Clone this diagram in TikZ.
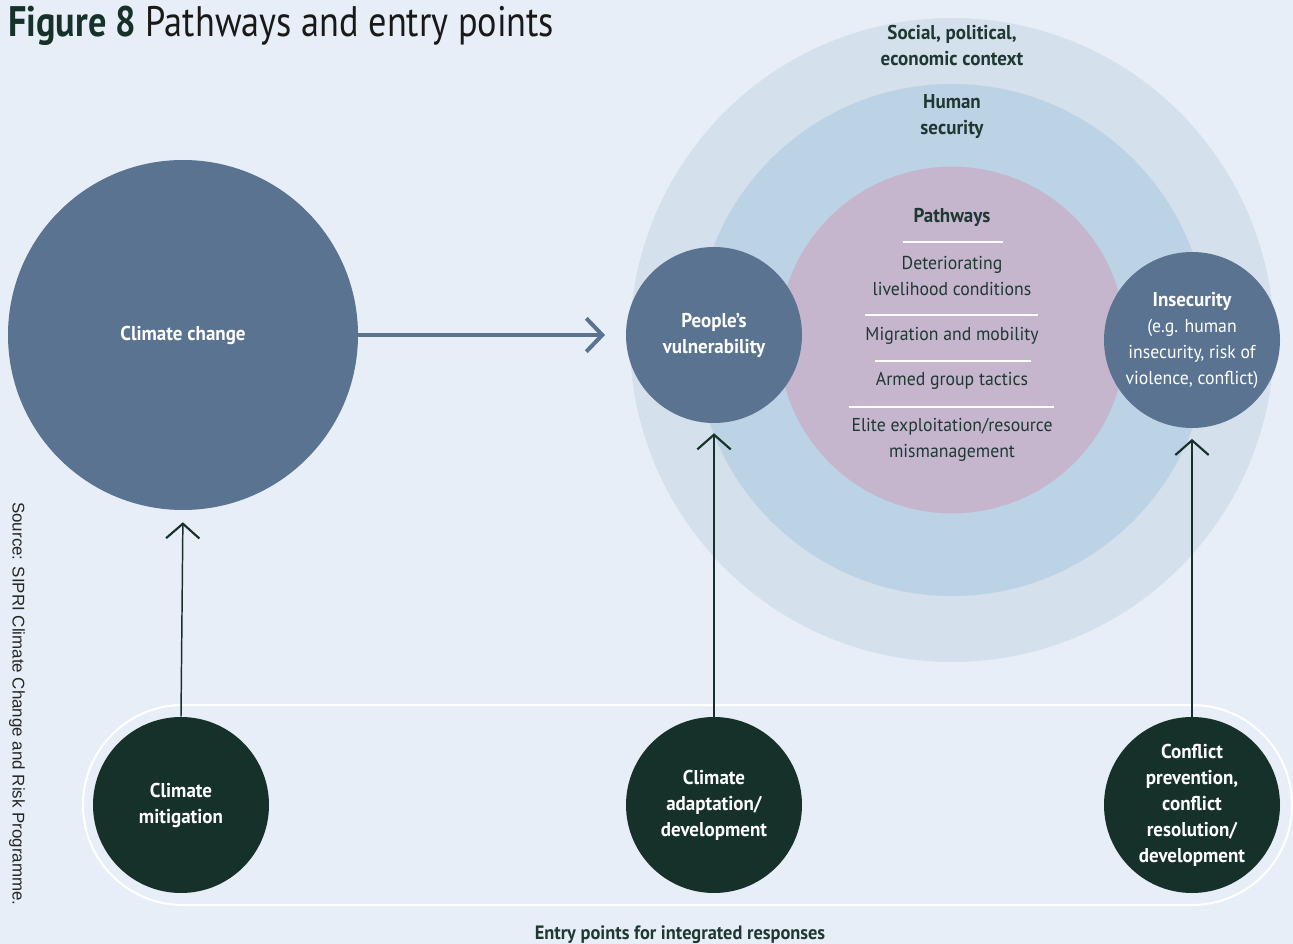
\documentclass[tikz,border=0pt]{standalone}
\usepackage{fontspec}
\setmainfont{PT Sans}[FakeStretch=0.95]
\newfontfamily\titlefont{PT Sans}[FakeStretch=0.85]
\newfontfamily\srcfont{Liberation Sans}
\usetikzlibrary{arrows.meta}
\definecolor{bg}{HTML}{E7EEF7}
\definecolor{outerc}{HTML}{D4E0EB}
\definecolor{humanc}{HTML}{BCD2E5}
\definecolor{pathc}{HTML}{C5B6CD}
\definecolor{slate}{HTML}{5A7390}
\definecolor{dgreen}{HTML}{16312A}
\definecolor{txtg}{HTML}{1F3832}
\tikzset{
  body/.style={font=\fontsize{14}{19.5}\selectfont, align=center, inner sep=0pt},
  bbody/.style={font=\bfseries\fontsize{15}{19.5}\selectfont, align=center, inner sep=0pt},
  slatecirc/.style={circle, fill=slate, text=white, inner sep=0pt},
  greencirc/.style={circle, fill=dgreen, text=white, inner sep=0pt, minimum size=132pt, bbody},
  sepline/.style={white, line width=1.2pt},
  varrow/.style={dgreen, line width=1.1pt, -{Straight Barb[length=11pt, width=25pt, line width=1.6pt]}},
  harrow/.style={slate, line width=3pt, -{Straight Barb[length=12pt, width=25pt, line width=3pt]}}
}
\begin{document}
\begin{tikzpicture}[x=0.75pt,y=-0.75pt]
\fill[bg] (0,0) rectangle (1293,944);
\useasboundingbox (0,0) rectangle (1293,944);

% title
\node[anchor=base west, inner sep=0pt, font=\titlefont\fontsize{32}{36}\selectfont] (title) at (8,37)
  {\textcolor{dgreen}{\bfseries Figure 8} \textcolor{black!90}{Pathways and entry points}};

% source
\node[rotate=-90, inner sep=0pt, text=black!85, font=\srcfont\fontsize{12.7}{14}\selectfont] (src) at (17,704)
  {Source: SIPRI Climate Change and Risk Programme.};

% concentric circles
\fill[outerc] (952,340) circle[radius=241.5pt];
\fill[humanc] (952,340) circle[radius=192pt];
\fill[pathc] (952,340) circle[radius=130pt];

% entry band
\draw[white, line width=1.5pt, rounded corners=75pt] (83,705) rectangle (1292,905);

% context labels
\node[bbody, text=txtg] (soc) at (952,46) {Social, political,\\economic context};
\node[bbody, text=txtg] (hum) at (952,117) {Human\\security};

% pathways
\node[bbody, text=txtg] (pw) at (952,217) {Pathways};
\draw[sepline] (903,242) -- (1003,242);
\node[body, text=txtg] (p1) at (952,276) {Deteriorating\\livelihood conditions};
\draw[sepline] (865,315) -- (1038,315);
\node[body, text=txtg] (p2) at (952,336) {Migration and mobility};
\draw[sepline] (875,361) -- (1031,361);
\node[body, text=txtg] (p3) at (952,381) {Armed group tactics};
\draw[sepline] (849,407) -- (1054,407);
\node[body, text=txtg] (p4) at (952,440) {Elite exploitation/resource\\mismanagement};

% main circles
\node[slatecirc, minimum size=262.5pt, bbody, text=white] (cc) at (183,335) {Climate change};
\node[slatecirc, minimum size=132pt, bbody, text=white] (pv) at (714,335) {People’s\\vulnerability};
\node[slatecirc, minimum size=132pt, body, text=white] (ins) at (1192,340)
  {{\bfseries\fontsize{15}{19.5}\selectfont Insecurity}\\(e.g. human\\insecurity, risk of\\violence, conflict)};

% entry points
\node[greencirc] (cm) at (181,805) {Climate\\mitigation};
\node[greencirc] (ca) at (714,805) {Climate\\adaptation/\\development};
\node[greencirc] (cp) at (1192,805) {Conflict\\prevention,\\conflict\\resolution/\\development};

\node[inner sep=0pt, text=txtg, font=\bfseries\fontsize{14.5}{16}\selectfont] (ep) at (680,935)
  {Entry points for integrated responses};

% arrows
\draw[harrow, shorten >=15.5pt] (cc.east) -- (pv.west);
\draw[varrow, shorten >=9pt] (cm.north) -- (cc.south);
\draw[varrow, shorten >=7.5pt] (ca.north) -- (pv.south);
\draw[varrow, shorten >=8pt] (cp.north) -- (ins.south);
\end{tikzpicture}
\end{document}
